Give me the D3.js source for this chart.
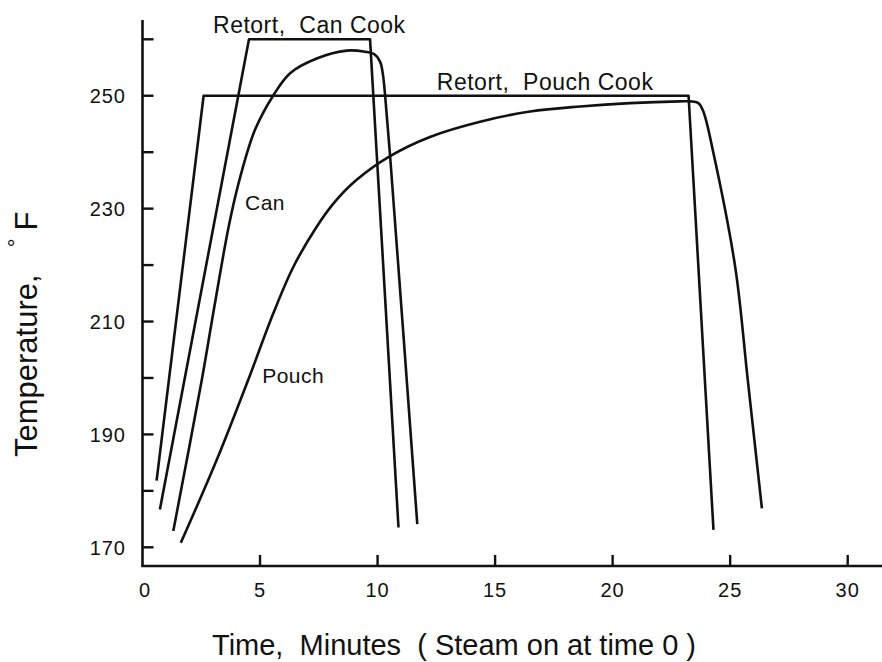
<!DOCTYPE html>
<html>
<head>
<meta charset="utf-8">
<script src="https://cdn.jsdelivr.net/npm/d3@7/dist/d3.min.js"></script>
<style>
  html, body { margin: 0; padding: 0; background: #fff; }
  svg { display: block; }
  text { font-family: "Liberation Sans", Arial, Helvetica, sans-serif; fill: #111; white-space: pre; }
</style>
</head>
<body>
<svg id="chart" width="882" height="662"></svg>
<script>
// Retort temperature profiles (minutes, °F)
const retortCanTime = [0.74, 4.53, 9.68, 10.89];
const retortCanTemp = [176.7, 260, 260, 173.5];

const retortPouchTime = [0.60, 2.60, 23.23, 24.29];
const retortPouchTemp = [181.8, 250, 250, 173.1];

// Product (cold point) temperatures
const canTime = [1.31, 2.52, 3.06, 3.68, 4.15, 4.79, 5.57, 6.28, 7.41, 8.69, 9.47, 9.85, 10.11, 10.23, 10.32, 10.53, 11.69];
const canTemp = [172.9, 199.6, 212.7, 227.1, 235.5, 244.0, 250.1, 254.0, 256.6, 258.0, 257.8, 257.4, 256.0, 253.7, 250.1, 239.5, 174.1];

const pouchTime = [1.63, 3.16, 4.50, 5.57, 6.42, 7.41, 8.12, 9.11, 10.53, 12.23, 14.36, 16.49, 18.62, 20.74, 22.87, 23.30, 23.65, 23.86, 24.29, 25.22, 25.75, 26.35];
const pouchTemp = [170.8, 185.5, 199.7, 211.5, 219.7, 226.8, 230.9, 235.1, 239.3, 242.7, 245.4, 247.2, 248.1, 248.7, 249.0, 249.0, 248.7, 247.2, 239.8, 219.5, 199.6, 176.9];

// Axis ticks
const xTicks = [0, 5, 10, 15, 20, 25, 30];
const xTickLabels = ["0", "5", "10", "15", "20", "25", "30"];
const yTicks = [170, 180, 190, 200, 210, 220, 230, 240, 250, 260];
const yTickLabels = ["170", "", "190", "", "210", "", "230", "", "250", ""];

// Curve labels
const labelText = ["Retort,  Can Cook", "Retort,  Pouch Cook", "Can", "Pouch"];
const labelTime = [3.0, 12.52, 4.36, 5.09];
const labelTemp = [261.1, 251.0, 229.8, 199.1];

const svg = d3.select("#chart");

const x = d3.scaleLinear().domain([0, 30]).range([142.5, 847.7]);
const y = d3.scaleLinear().domain([170, 260]).range([547.3, 39.3]);

const xAxisY = y(166.7);
const yAxisTop = y(263.4);

const ink = "#111";

// Axis lines
svg.append("line")
  .attr("x1", x(0)).attr("x2", x(0))
  .attr("y1", yAxisTop).attr("y2", xAxisY)
  .attr("stroke", ink).attr("stroke-width", 2.6);
svg.append("line")
  .attr("x1", x(0) - 1.3).attr("x2", 882)
  .attr("y1", xAxisY).attr("y2", xAxisY)
  .attr("stroke", ink).attr("stroke-width", 2.6);

// Y ticks (pointing inward)
const yg = svg.append("g").attr("class", "y-ticks");
yTicks.forEach((t, i) => {
  yg.append("line")
    .attr("x1", x(0)).attr("x2", x(0) + 11)
    .attr("y1", y(t)).attr("y2", y(t))
    .attr("stroke", ink).attr("stroke-width", 2.4);
  if (yTickLabels[i]) {
    yg.append("text")
      .attr("x", 126).attr("y", y(t))
      .attr("dy", "0.36em")
      .attr("text-anchor", "end")
      .attr("font-size", 20)
      .attr("letter-spacing", 1)
      .text(yTickLabels[i]);
  }
});

// X ticks (pointing inward)
const xg = svg.append("g").attr("class", "x-ticks");
xTicks.forEach((t, i) => {
  if (t > 0) {
    xg.append("line")
      .attr("x1", x(t)).attr("x2", x(t))
      .attr("y1", xAxisY).attr("y2", xAxisY - 11)
      .attr("stroke", ink).attr("stroke-width", 2.4);
  }
  xg.append("text")
    .attr("x", x(t) + (t === 0 ? 2.5 : 0)).attr("y", 597)
    .attr("text-anchor", "middle")
    .attr("font-size", 20)
    .attr("letter-spacing", 1)
    .text(xTickLabels[i]);
});

// Axis titles
svg.append("text")
  .attr("x", 212).attr("y", 655)
  .attr("font-size", 29)
  .text("Time,  Minutes  ( Steam on at time 0 )");

const yTitle = svg.append("text")
  .attr("transform", "translate(37,457) rotate(-90)")
  .attr("font-size", 31);
yTitle.append("tspan").text("Temperature,");
yTitle.append("tspan").attr("dx", 27).attr("dy", -13).attr("font-size", 22).text("°");
yTitle.append("tspan").attr("dx", 8).attr("dy", 13).text("F");

// Curves
const line = d3.line()
  .x(d => x(d[0]))
  .y(d => y(d[1]));
const smooth = d3.line()
  .x(d => x(d[0]))
  .y(d => y(d[1]))
  .curve(d3.curveCatmullRom.alpha(0.5));

const series = [
  { t: retortCanTime, v: retortCanTemp, gen: line },
  { t: retortPouchTime, v: retortPouchTemp, gen: line },
  { t: canTime, v: canTemp, gen: smooth },
  { t: pouchTime, v: pouchTemp, gen: smooth }
];

svg.append("g").selectAll("path")
  .data(series)
  .join("path")
  .attr("d", s => s.gen(s.t.map((tt, i) => [tt, s.v[i]])))
  .attr("fill", "none")
  .attr("stroke", ink)
  .attr("stroke-width", 2.6)
  .attr("stroke-linejoin", "round")
  .attr("stroke-linecap", "butt");

// Curve labels
svg.append("g").selectAll("text")
  .data(labelText)
  .join("text")
  .attr("x", (d, i) => x(labelTime[i]))
  .attr("y", (d, i) => y(labelTemp[i]))
  .attr("font-size", (d, i) => i < 2 ? 23 : 21)
  .attr("letter-spacing", 0.5)
  .text(d => d);
</script>
</body>
</html>
